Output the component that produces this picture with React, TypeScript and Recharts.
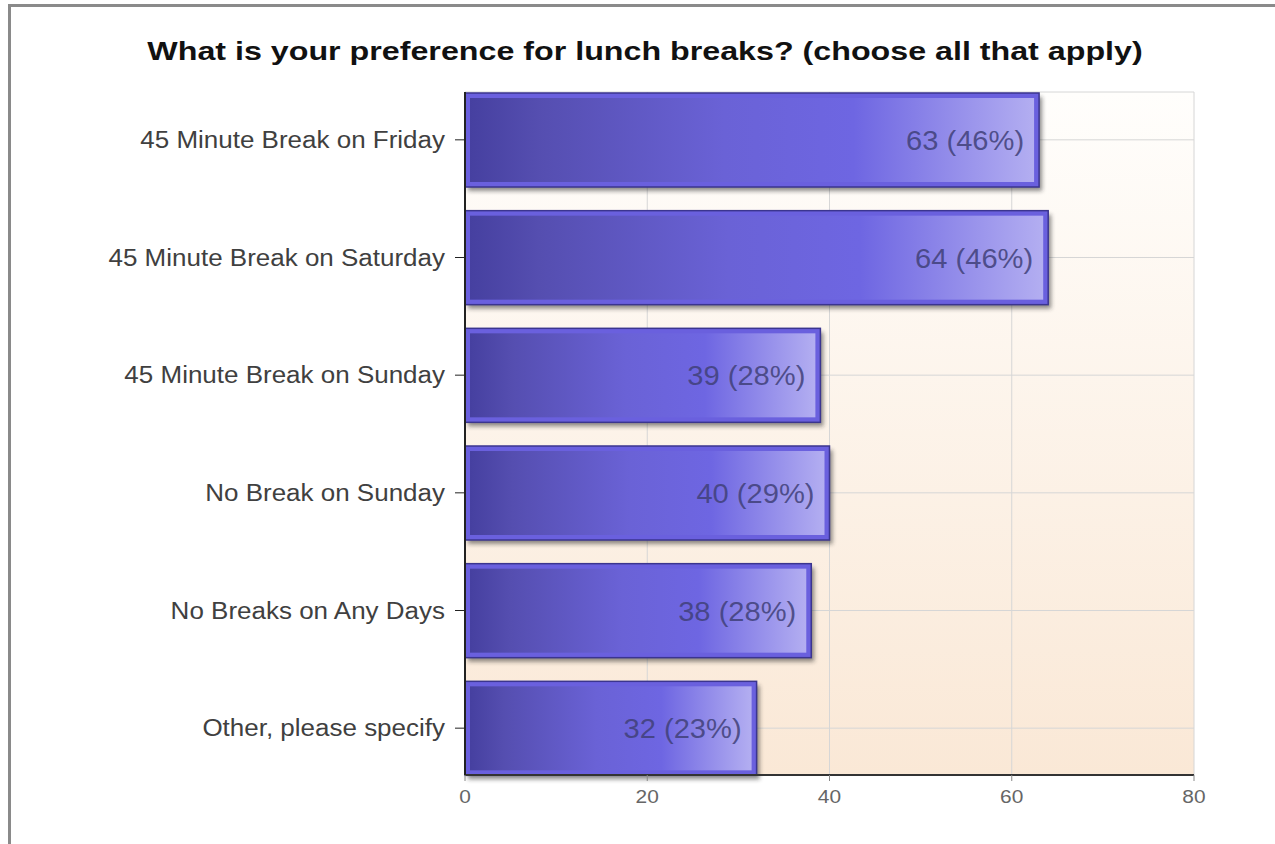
import React from 'react';
import { BarChart, Bar, XAxis, YAxis, CartesianGrid, LabelList } from 'recharts';

const categories = [
  '45 Minute Break on Friday',
  '45 Minute Break on Saturday',
  '45 Minute Break on Sunday',
  'No Break on Sunday',
  'No Breaks on Any Days',
  'Other, please specify',
];
const counts = [63, 64, 39, 40, 38, 32];
const percents = [46, 46, 28, 29, 28, 23];
const xTicks = [0, 20, 40, 60, 80];

const data = categories.map((name, i) => ({ name, count: counts[i], pct: percents[i] }));

const FONT = '"Liberation Sans", Arial, sans-serif';

const BarShape = (props: any) => {
  const { x, y, width, height } = props;
  if (!width || width <= 0) return null;
  return (
    <g>
      <rect x={x + 3} y={y + 4} width={width} height={height} fill="#222" opacity={0.5} filter="url(#barShadow)" />
      <rect x={x} y={y} width={width} height={height} fill="#6a60de" stroke="#3b358f" strokeWidth={1.5} />
      <rect x={x + 5} y={y + 5} width={width - 10} height={height - 10} fill="url(#barGrad)" />
    </g>
  );
};

const ValueLabel = (props: any) => {
  const { x, y, width, height, index } = props;
  const tx = x + width - 15;
  const ty = y + height / 2 + 10;
  return (
    <text
      transform={`translate(${tx},${ty}) scale(1.04,1)`}
      textAnchor="end"
      fontFamily={FONT}
      fontSize={28}
      fill="#404078"
      fillOpacity={0.85}
    >
      {`${counts[index]} (${percents[index]}%)`}
    </text>
  );
};

const CategoryTick = (props: any) => {
  const { x, y, payload } = props;
  return (
    <text
      transform={`translate(${x},${y + 8}) scale(1.13,1)`}
      textAnchor="end"
      fontFamily={FONT}
      fontSize={23}
      fill="#404040"
    >
      {payload.value}
    </text>
  );
};

const NumberTick = (props: any) => {
  const { x, y, payload } = props;
  return (
    <text
      transform={`translate(${x},${y + 20}) scale(1.1,1)`}
      textAnchor="middle"
      fontFamily={FONT}
      fontSize={19}
      fill="#666"
    >
      {payload.value}
    </text>
  );
};

export default function App() {
  return (
    <div style={{ position: 'absolute', left: 0, top: 0, width: 1275, height: 844, overflow: 'hidden', background: '#fff' }}>
      <div
        style={{
          position: 'absolute',
          left: 8,
          top: 4,
          width: 1400,
          height: 1000,
          borderTop: '3px solid #8a8a8a',
          borderLeft: '3px solid #8a8a8a',
        }}
      />
      <div style={{ position: 'absolute', left: 0, top: 0 }}>
        <BarChart
          width={1275}
          height={844}
          data={data}
          layout="vertical"
          margin={{ top: 92, right: 81, left: 0, bottom: 0 }}
          barSize={94}
        >
          <defs>
            <linearGradient id="barGrad" x1="0" y1="0" x2="1" y2="0">
              <stop offset="0%" stopColor="#4640a0" />
              <stop offset="12%" stopColor="#554eb0" />
              <stop offset="45%" stopColor="#6a62d6" />
              <stop offset="68%" stopColor="#6e66e2" />
              <stop offset="100%" stopColor="#b3aef1" />
            </linearGradient>
            <linearGradient id="plotBg" x1="0" y1="0" x2="0" y2="1">
              <stop offset="0%" stopColor="#fffefc" />
              <stop offset="100%" stopColor="#fae8d6" />
            </linearGradient>
            <filter id="barShadow" x="-10%" y="-10%" width="120%" height="130%">
              <feGaussianBlur stdDeviation="2" />
            </filter>
          </defs>
          <text x={645} y={60} textAnchor="middle" fontFamily={FONT} fontSize={26} fontWeight="bold" fill="#111"
            transform="translate(645,0) scale(1.24,1) translate(-645,0)">
            What is your preference for lunch breaks? (choose all that apply)
          </text>
          <CartesianGrid fill="url(#plotBg)" stroke="#d6d6d6" strokeWidth={1} />
          <XAxis
            type="number"
            dataKey="count"
            domain={[0, 80]}
            ticks={xTicks}
            height={69}
            axisLine={{ stroke: '#333', strokeWidth: 2 }}
            tickLine={{ stroke: '#888' }}
            tickSize={6}
            tick={<NumberTick />}
            interval={0}
          />
          <YAxis
            type="category"
            dataKey="name"
            width={465}
            padding={{ top: -11, bottom: -12 }}
            axisLine={{ stroke: '#222', strokeWidth: 2 }}
            tickLine={{ stroke: '#222' }}
            tickSize={10}
            tickMargin={10}
            tick={<CategoryTick />}
            interval={0}
          />
          <Bar dataKey="count" shape={<BarShape />} isAnimationActive={false}>
            <LabelList dataKey="count" content={<ValueLabel />} />
          </Bar>
        </BarChart>
      </div>
    </div>
  );
}
